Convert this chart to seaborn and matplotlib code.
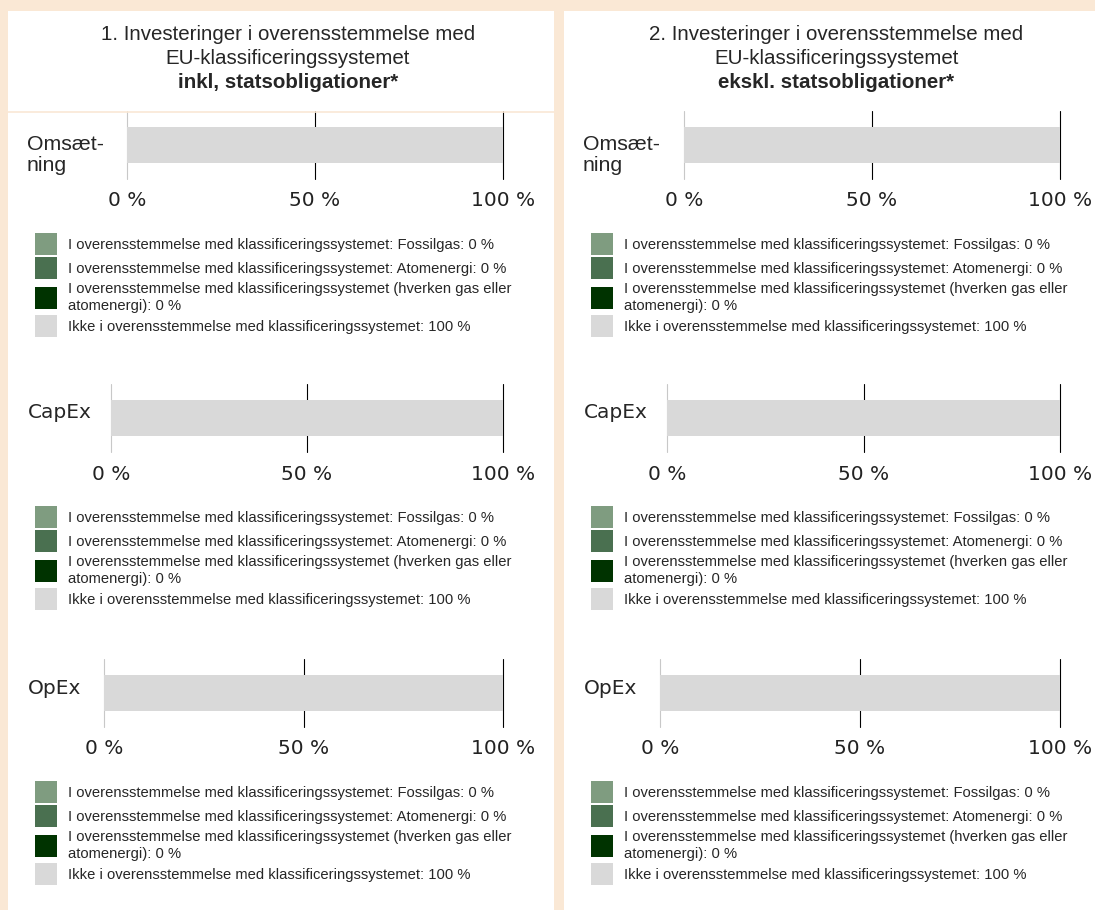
import numpy as np
import pandas as pd
import matplotlib
matplotlib.use("Agg")
import matplotlib.pyplot as plt
from matplotlib.patches import Rectangle, Patch
from matplotlib.lines import Line2D
import seaborn as sns

# Data (percent of investments)
kpis = ["Omsætning", "CapEx", "OpEx"]
kpi_labels = ["Omsæt-\nning", "CapEx", "OpEx"]

fossilgas_incl = [0, 0, 0]
atomenergi_incl = [0, 0, 0]
other_incl = [0, 0, 0]
not_aligned_incl = [100, 100, 100]

fossilgas_excl = [0, 0, 0]
atomenergi_excl = [0, 0, 0]
other_excl = [0, 0, 0]
not_aligned_excl = [100, 100, 100]

panel_titles = [
    ("1. Investeringer i overensstemmelse med", "EU-klassificeringssystemet", "inkl, statsobligationer*"),
    ("2. Investeringer i overensstemmelse med", "EU-klassificeringssystemet", "ekskl. statsobligationer*"),
]
tick_values = [0, 50, 100]
tick_labels = ["0 %", "50 %", "100 %"]
colors = ["#7f9c80", "#4a7050", "#003300", "#d9d9d9"]
peach = "#fae8d5"

panels = [
    [fossilgas_incl, atomenergi_incl, other_incl, not_aligned_incl],
    [fossilgas_excl, atomenergi_excl, other_excl, not_aligned_excl],
]

sns.set_theme(style="white")
plt.rcParams["font.family"] = ["Liberation Sans", "DejaVu Sans"]

W, H = 1095, 910
fig = plt.figure(figsize=(W / 100, H / 100), dpi=100, facecolor=peach)


def fx(px):
    return px / W


def fy(py):
    return 1 - py / H


# White panels
panel_left = [8, 564]
panel_right = [554, 1095]
for pl, pr in zip(panel_left, panel_right):
    fig.add_artist(Rectangle((fx(pl), 0), fx(pr - pl), fy(11), transform=fig.transFigure,
                             facecolor="white", edgecolor="none", zorder=0))
fig.add_artist(Line2D([fx(8), fx(554)], [fy(112), fy(112)], transform=fig.transFigure,
                      color=peach, lw=1.2, zorder=1))

# Bar axes positions (pixels): left edge (0 %) per kpi, 100 % edge
zero_x = [[127, 111, 104], [684, 667, 660]]
full_x = [503, 1060]
row_offset = [0, 273, 548]
label_dy = [11, -4, -4]

for p in range(2):
    cx = (panel_left[p] + panel_right[p]) / 2 + 7
    t1, t2, t3 = panel_titles[p]
    fig.text(fx(cx), fy(35), t1, ha="center", va="center", fontsize=14.8)
    fig.text(fx(cx), fy(59), t2, ha="center", va="center", fontsize=14.8)
    fig.text(fx(cx), fy(83), t3, ha="center", va="center", fontsize=14.8, fontweight="bold")

    for k, kpi in enumerate(kpis):
        vals = [series[k] for series in panels[p]]
        cum = np.cumsum(vals)
        top = 111 + row_offset[k]
        bottom = 179 + row_offset[k]
        x0 = zero_x[p][k]
        ax = fig.add_axes([fx(x0), fy(bottom), fx(full_x[p] - x0), (bottom - top) / H])
        ax.set_facecolor("none")

        # stacked bar: draw cumulative totals from largest to smallest
        for i in range(len(vals) - 1, -1, -1):
            df = pd.DataFrame({"kpi": [kpi], "value": [cum[i]]})
            sns.barplot(data=df, x="value", y="kpi", orient="h", color=colors[i],
                        saturation=1, width=0.515, linewidth=0, ax=ax, zorder=3)

        for v in tick_values:
            ax.axvline(v, color="#c8c8c8" if v == 0 else "black", lw=0.8,
                       zorder=1, clip_on=False)
        ax.set_xlim(0, 100)
        ax.set_ylim(0.5, -0.5)
        ax.set_xticks(tick_values)
        ax.set_xticklabels(tick_labels, fontsize=14.5, family="DejaVu Sans", color="#222222")
        ax.tick_params(axis="x", length=0, pad=9)
        ax.set_yticks([])
        ax.set_xlabel("")
        ax.set_ylabel("")
        sns.despine(ax=ax, left=True, bottom=True)

        if k == 0:
            fig.text(fx(panel_left[p] + 19), fy(144 + row_offset[k] + label_dy[k]), kpi_labels[k],
                     ha="left", va="center", fontsize=15.3, family="Liberation Sans",
                     linespacing=1.1)
        else:
            fig.text(fx(panel_left[p] + 20), fy(144 + row_offset[k] + label_dy[k]), kpi_labels[k],
                     ha="left", va="center", fontsize=14.5, family="DejaVu Sans")

        legend_labels = [
            f"I overensstemmelse med klassificeringssystemet: Fossilgas: {vals[0]} %",
            f"I overensstemmelse med klassificeringssystemet: Atomenergi: {vals[1]} %",
            f"I overensstemmelse med klassificeringssystemet (hverken gas eller\natomenergi): {vals[2]} %",
            f"Ikke i overensstemmelse med klassificeringssystemet: {vals[3]} %",
        ]
        handles = [Patch(facecolor=c, edgecolor="none") for c in colors]
        leg = ax.legend(handles, legend_labels, loc="upper left",
                        bbox_to_anchor=(fx(panel_left[p] + 27), fy(233 + row_offset[k])),
                        bbox_transform=fig.transFigure, frameon=False, fontsize=10.6,
                        handlelength=1.5, handleheight=1.925, handletextpad=0.75,
                        labelspacing=0.16, borderpad=0, borderaxespad=0)
        for t in leg.get_texts():
            t.set_linespacing(1.25)

fig.savefig("out.png", dpi=100, facecolor=peach)
